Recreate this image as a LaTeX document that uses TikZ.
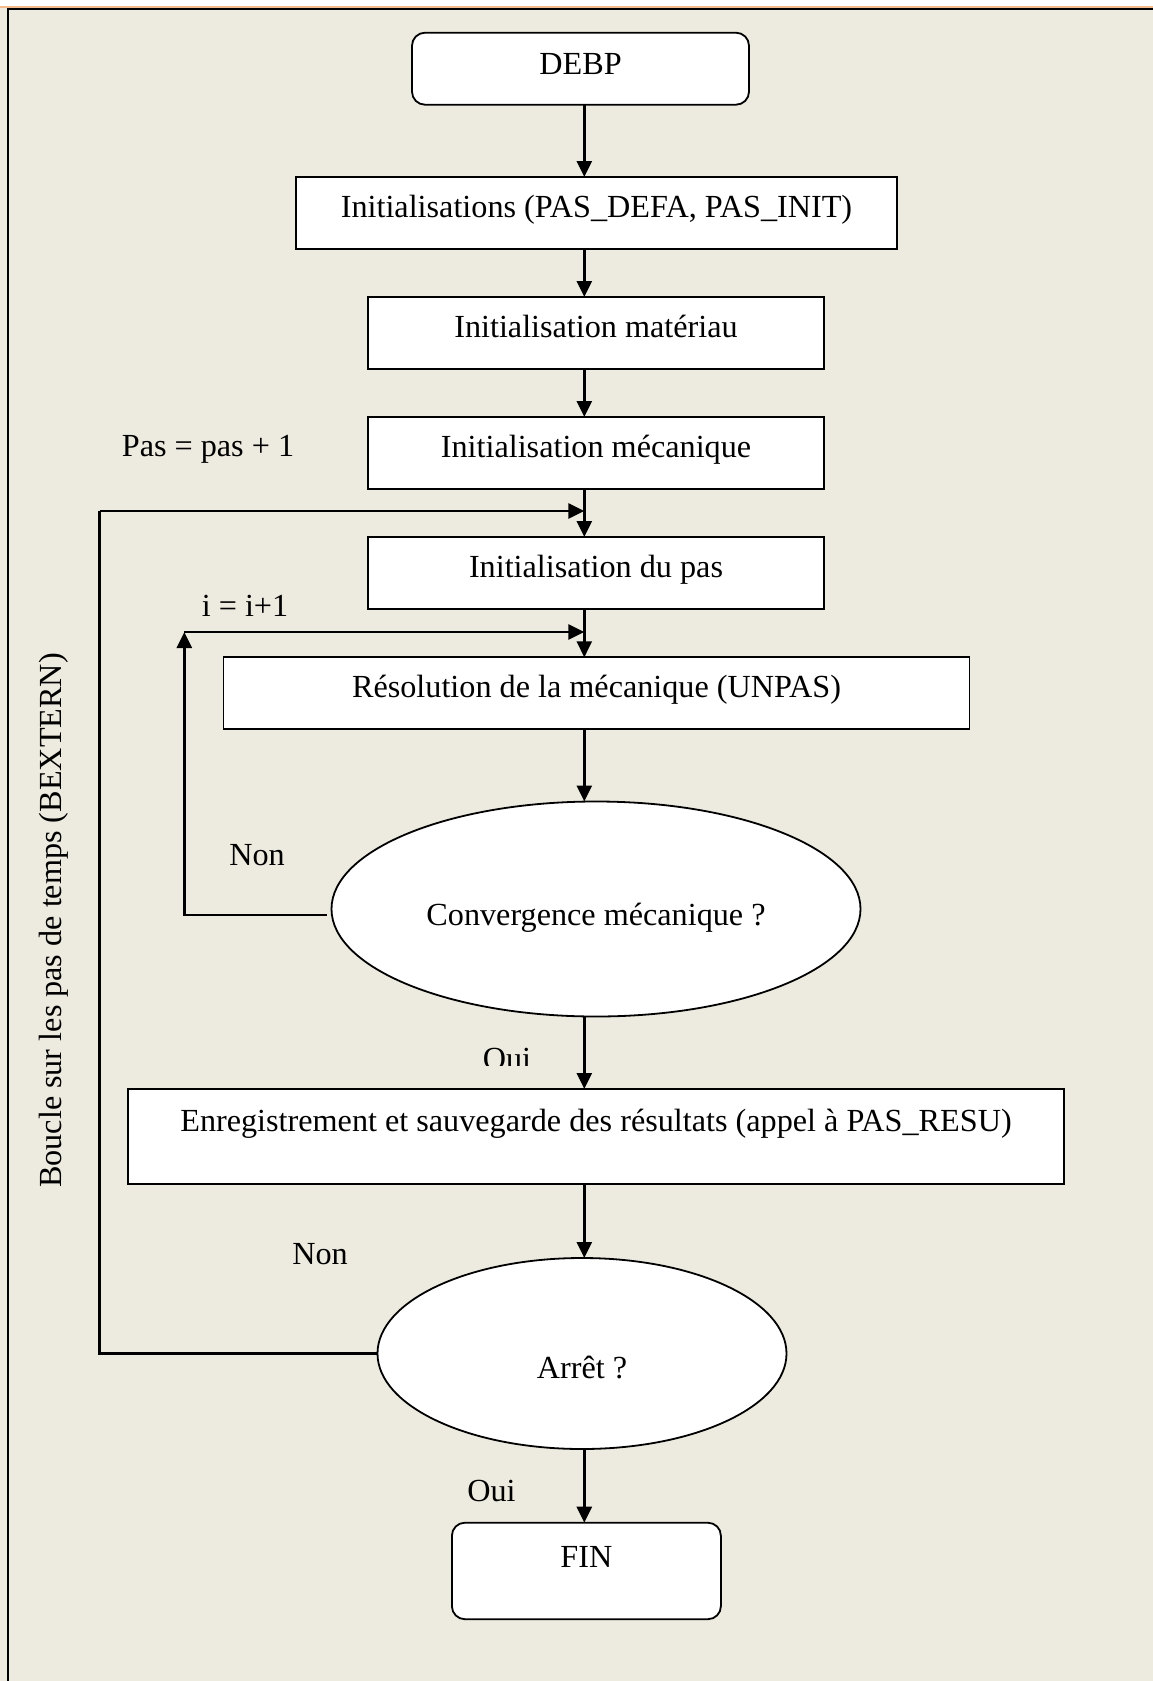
\documentclass[tikz,border=0pt]{standalone}
\usepackage{fontspec}
\setmainfont{Liberation Serif}
\usetikzlibrary{shapes.geometric,arrows.meta}

\definecolor{paper}{RGB}{237,234,223}
\definecolor{rim}{RGB}{245,186,140}

\begin{document}
\begin{tikzpicture}[x=1pt,y=-1pt,
  every node/.style={font=\fontsize{32.2}{38}\selectfont, inner sep=0pt, outer sep=0pt},
  link/.style={line width=2.6pt},
  flow/.style={link, -{Triangle[length=16pt,width=15pt]}},
  stepbox/.style={draw, line width=1.8pt, fill=white, anchor=north,
    text height=40pt, text depth=32pt},
  tallbox/.style={stepbox, text height=42pt, text depth=53pt},
  endbox/.style={stepbox, rounded corners=13pt},
  testshape/.style={draw, line width=1.8pt, fill=white, ellipse}
]
% page and frame
\useasboundingbox (0,0) rectangle (1153,1681);
\fill[white] (0,0) rectangle (1153,1681);
\fill[paper] (0,7) rectangle (1153,1681);
\draw[rim, line width=2pt] (0,6.5) -- (1153,6.5);
\draw[line width=2.2pt] (8,1681) -- (8,9) -- (1153,9);

% column of the main flow
\coordinate (col) at (584.3,0);

% steps
\node[endbox, minimum width=337pt, text height=42pt, text depth=30pt] (debp) at (580.5,32.7) {DEBP};
\node[stepbox, minimum width=601pt] (init) at (596.5,177) {Initialisations (PAS\_DEFA, PAS\_INIT)};
\node[stepbox, minimum width=456pt] (mat) at (596,297) {Initialisation matériau};
\node[stepbox, minimum width=456pt] (meca) at (596,417) {Initialisation mécanique};
\node[stepbox, minimum width=456pt] (pasinit) at (596,537) {Initialisation du pas};
\node[stepbox, minimum width=746pt] (unpas) at (596.5,657.3) {Résolution de la mécanique (UNPAS)};
\node[testshape, minimum width=529pt, minimum height=215pt, text height=32pt, text depth=0pt]
  (conv) at (596,909) {Convergence mécanique ?};
\node[tallbox, minimum width=936pt] (resu) at (596,1089) {Enregistrement et sauvegarde des résultats (appel à PAS\_RESU)};
\node[testshape, minimum width=409pt, minimum height=191pt, text height=50pt, text depth=0pt]
  (stop) at (582,1353.5) {Arrêt ?};
\node[endbox, minimum width=269pt, text height=45pt, text depth=51.5pt] (fin) at (586.4,1522.7) {FIN};

% main flow
\draw[flow] (debp.south -| col) -- (init.north -| col);
\draw[flow] (init.south -| col) -- (mat.north -| col);
\draw[flow] (mat.south -| col) -- (meca.north -| col);
\draw[flow] (meca.south -| col) -- (pasinit.north -| col);
\draw[flow] (pasinit.south -| col) -- (unpas.north -| col);
\draw[flow] (unpas.south -| col) -- (conv.north -| col);
\draw[flow] (conv.south -| col) -- (resu.north -| col);
\draw[flow] (resu.south -| col) -- (stop.north -| col);
\draw[flow] (stop.south -| col) -- (fin.north -| col);

% inner loop on the iterations
\coordinate (innerturn) at (184.3,632);
\draw[flow] ([xshift=-5pt,yshift=-6pt]conv.west) -| (innerturn);
\draw[flow] (innerturn) -- (innerturn -| col);

% outer loop on the time steps
\coordinate (outerturn) at (99.6,511);
\draw[link] (stop.west) -| (outerturn);
\draw[flow] (outerturn) -- (outerturn -| col);

% labels
\node[anchor=base] (paslbl) at (208,456) {Pas = pas + 1};
\node[anchor=base] (ilbl) at (245,616.7) {i = i+1};
\node[anchor=base] (non1) at (257,865) {Non};
\begin{scope}
  \clip (440,1030) rectangle (580,1065);
  \node[anchor=base] (oui1) at (507,1069) {Oui};
\end{scope}
\node[anchor=base] (non2) at (320,1264) {Non};
\node[anchor=base] (oui2) at (491.5,1501) {Oui};
\node[anchor=base, rotate=90] (loopname) at (61.7,920.5) {Boucle sur les pas de temps (BEXTERN)};
\end{tikzpicture}
\end{document}
